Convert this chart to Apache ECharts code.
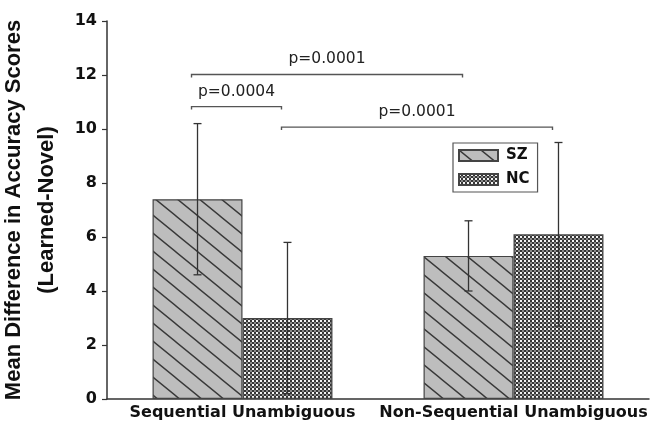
<!DOCTYPE html>
<html>
<head>
<meta charset="utf-8">
<script src="https://cdn.jsdelivr.net/npm/echarts@6/dist/echarts.min.js"></script>
<style>
html,body{margin:0;padding:0;background:#fff;}
#chart{width:660px;height:428px;}
</style>
</head>
<body>
<div id="chart"></div>
<script>
// ---- data ----
var categories = ['Sequential Unambiguous', 'Non-Sequential Unambiguous'];
var seriesNames = ['SZ', 'NC'];
var szMean = [7.4, 5.3];
var ncMean = [3.0, 6.1];
var szLow = [4.6, 4.0];
var szHigh = [10.2, 6.6];
var ncLow = [0.2, 2.7];
var ncHigh = [5.8, 9.5];
var yTicks = [0, 2, 4, 6, 8, 10, 12, 14];
// significance brackets: [category, series] endpoints, height, label
var bracketFrom = [[0, 0], [0, 0], [0, 1]];
var bracketTo = [[0, 1], [1, 0], [1, 1]];
var bracketY = [10.83, 12.02, 10.07];
var bracketLabels = ['p=0.0004', 'p=0.0001', 'p=0.0001'];

// ---- patterns ----
function hatchPattern() {
  var w = 22, h = 18;
  var c = document.createElement('canvas');
  c.width = w; c.height = h;
  var ctx = c.getContext('2d');
  ctx.fillStyle = '#bdbdbd';
  ctx.fillRect(0, 0, w, h);
  ctx.strokeStyle = '#383838';
  ctx.lineWidth = 1.4;
  ctx.beginPath();
  for (var k = -1; k <= 1; k++) {
    ctx.moveTo(k * w - w, -h);
    ctx.lineTo(k * w + 2 * w, 2 * h);
  }
  ctx.stroke();
  return c;
}
function checkPattern() {
  var c = document.createElement('canvas');
  c.width = 4; c.height = 4;
  var ctx = c.getContext('2d');
  ctx.fillStyle = '#353535';
  ctx.fillRect(0, 0, 4, 4);
  ctx.fillStyle = '#f4f4f4';
  ctx.fillRect(0, 0, 2, 2);
  ctx.fillStyle = '#8a8a8a';
  ctx.fillRect(2, 2, 2, 2);
  return c;
}

var GAP = 0.336;
function barOffset(api, s) {
  var band = api.size([1, 0])[0];
  var bw = band * (1 - GAP) / 2;
  return s === 0 ? -bw / 2 : bw / 2;
}

var errData = [];
for (var i = 0; i < categories.length; i++) {
  errData.push([i, szLow[i], szHigh[i], 0]);
  errData.push([i, ncLow[i], ncHigh[i], 1]);
}
var brData = [];
for (var j = 0; j < bracketY.length; j++) {
  brData.push([bracketFrom[j][0], bracketFrom[j][1], bracketTo[j][0], bracketTo[j][1], bracketY[j], j]);
}

var chart = echarts.init(document.getElementById('chart'), null, {renderer: 'canvas'});
var option = {
  animation: false,
  backgroundColor: '#ffffff',
  grid: {left: 107, right: 11, top: 21, bottom: 29, containLabel: false, outerBoundsMode: 'none'},
  legend: {
    data: seriesNames,
    orient: 'vertical',
    left: 453, top: 143,
    itemWidth: 39, itemHeight: 11, itemGap: 9,
    padding: [5, 8, 5, 5],
    borderColor: '#555', borderWidth: 1.2,
    icon: 'rect',
    textStyle: {fontFamily: 'DejaVu Sans', fontWeight: 'bold', fontSize: 15, color: '#111', padding: [0, 0, 0, 3]}
  },
  xAxis: {
    type: 'category',
    data: categories,
    axisTick: {show: false},
    axisLine: {lineStyle: {color: '#333', width: 1.5}},
    axisLabel: {fontFamily: 'DejaVu Sans', fontWeight: 'bold', fontSize: 16, color: '#111', margin: 6, interval: 0}
  },
  yAxis: {
    type: 'value',
    min: yTicks[0], max: yTicks[yTicks.length - 1], interval: yTicks[1] - yTicks[0],
    splitLine: {show: false},
    axisLine: {show: true, lineStyle: {color: '#333', width: 1.5}},
    axisTick: {show: true, length: 5, lineStyle: {color: '#333', width: 1.2}},
    axisLabel: {fontFamily: 'DejaVu Sans', fontWeight: 'bold', fontSize: 16, color: '#111', margin: 10},
    name: 'Mean Difference in Accuracy Scores\n(Learned-Novel)',
    nameLocation: 'middle',
    nameRotate: 90,
    nameGap: 38,
    nameTextStyle: {fontFamily: 'Liberation Sans', fontWeight: 'bold', fontSize: 22, color: '#111', lineHeight: 33}
  },
  series: [
    {
      name: seriesNames[0], type: 'bar', data: szMean,
      barGap: '0%', barCategoryGap: (GAP * 100) + '%',
      itemStyle: {color: {image: hatchPattern(), repeat: 'repeat'}, borderColor: '#444', borderWidth: 1.2},
      z: 2
    },
    {
      name: seriesNames[1], type: 'bar', data: ncMean,
      barGap: '0%', barCategoryGap: (GAP * 100) + '%',
      itemStyle: {color: {image: checkPattern(), repeat: 'repeat'}, borderColor: '#444', borderWidth: 1.2},
      z: 2
    },
    {
      type: 'custom', name: 'err', data: errData, z: 5,
      encode: {x: 0, y: [1, 2]},
      renderItem: function (params, api) {
        var cat = api.value(0), s = api.value(3);
        var lo = api.coord([cat, api.value(1)]);
        var hi = api.coord([cat, api.value(2)]);
        var x = lo[0] + barOffset(api, s);
        var cap = 4;
        var st = {stroke: '#333', lineWidth: 1.3};
        return {type: 'group', children: [
          {type: 'line', shape: {x1: x, y1: lo[1], x2: x, y2: hi[1]}, style: st},
          {type: 'line', shape: {x1: x - cap, y1: lo[1], x2: x + cap, y2: lo[1]}, style: st},
          {type: 'line', shape: {x1: x - cap, y1: hi[1], x2: x + cap, y2: hi[1]}, style: st}
        ]};
      }
    },
    {
      type: 'custom', name: 'brackets', data: brData, z: 5,
      encode: {x: 0, y: 4},
      renderItem: function (params, api) {
        var y = api.value(4), idx = api.value(5);
        var p1 = api.coord([api.value(0), y]);
        var p2 = api.coord([api.value(2), y]);
        var x1 = p1[0] + barOffset(api, api.value(1)) - 6;
        var x2 = p2[0] + barOffset(api, api.value(3)) - 6;
        var yy = p1[1];
        var st = {stroke: '#555', lineWidth: 1.4, fill: null};
        return {type: 'group', children: [
          {type: 'polyline', shape: {points: [[x1, yy + 3], [x1, yy], [x2, yy], [x2, yy + 3]]}, style: st},
          {type: 'text', x: (x1 + x2) / 2, y: yy - 15, style: {
            text: bracketLabels[idx], align: 'center', verticalAlign: 'middle',
            fontFamily: 'DejaVu Sans', fontSize: 15.5, fill: '#222'
          }}
        ]};
      }
    }
  ]
};
chart.setOption(option);
</script>
</body>
</html>
